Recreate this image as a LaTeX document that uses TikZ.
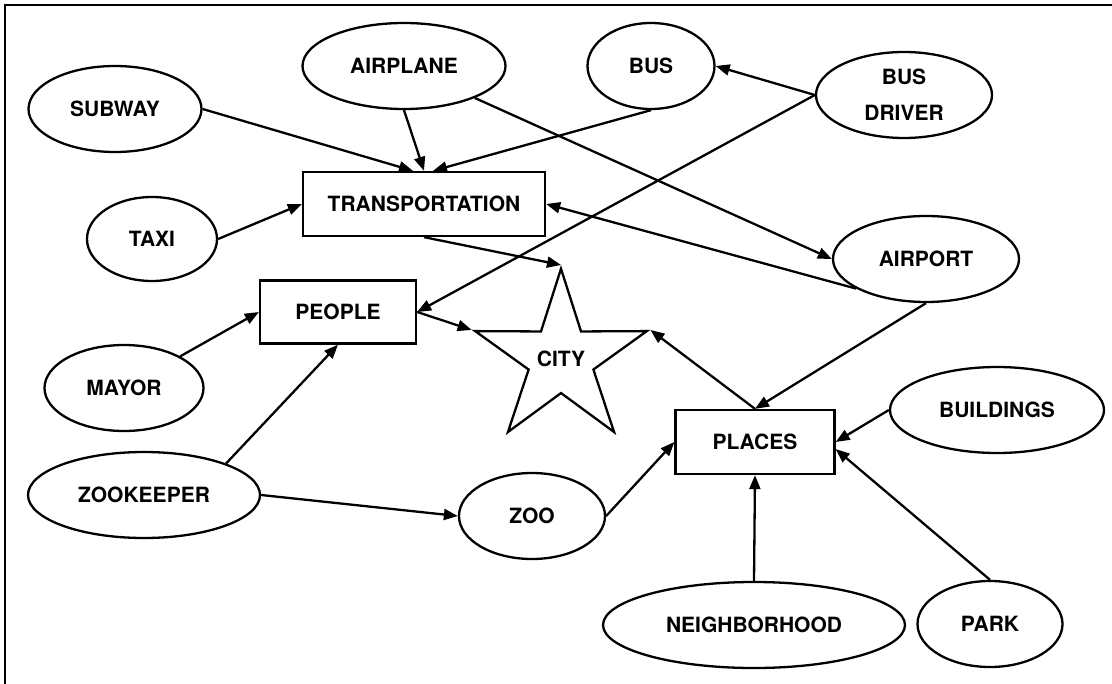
\documentclass[tikz,border=0pt]{standalone}
\usepackage{fontspec}
\setmainfont{TeX Gyre Heros}
\usetikzlibrary{shapes,arrows.meta,positioning}

\begin{document}
\begin{tikzpicture}[x=0.5pt, y=-0.5pt, line width=1.15pt,
  >={Triangle[length=7pt,width=5.5pt]},
  every node/.append style={font=\bfseries\fontsize{10.5}{18}\selectfont, inner sep=0pt},
  idea/.style={ellipse, draw, minimum height=43pt, align=center},
  group/.style={rectangle, draw, minimum height=32pt}]
    \useasboundingbox (0,0) rectangle (1112,684);
    \draw[line width=1.4pt] (5,684) -- (5,5) -- (1112,5);

    % top row
    \node (subway) [idea, minimum width=86.5pt] at (115,109) {SUBWAY};
    \node (airplane) [idea, minimum width=101.5pt] at (404,66) {AIRPLANE};
    \node (bus) [idea, minimum width=63.5pt] at (651,66) {BUS};
    \node (busdriver) [idea, minimum width=88pt] at (904,95) {BUS\\DRIVER};
    \node (transport) [group, minimum width=121pt] at (424,204) {TRANSPORTATION};
    \node (taxi) [idea, minimum width=65pt, minimum height=42pt] at (152,239) {TAXI};
    \node (airport) [idea, minimum width=93pt] at (926,259) {AIRPORT};

    % middle
    \node (people) [group, minimum width=78pt, minimum height=31.5pt] at (338,312) {PEOPLE};
    \node (mayor) [idea, minimum width=79.5pt] at (124,388) {MAYOR};
    \node (city) [star, star points=5, star point ratio=2.65, draw, minimum size=90pt] at (561,359) {\raisebox{-2pt}{CITY}};
    \node (places) [group, minimum width=79.5pt] at (755,442) {PLACES};
    \node (buildings) [idea, minimum width=107pt] at (997,410) {BUILDINGS};

    % bottom
    \node (zookeeper) [idea, minimum width=116pt] at (144,495) {ZOOKEEPER};
    \node (zoo) [idea, minimum width=73pt] at (532,516) {ZOO};
    \node (neighborhood) [idea, minimum width=151pt] at (754,625) {NEIGHBORHOOD};
    \node (park) [idea, minimum width=72.5pt] at (990,624) {PARK};

    \draw[->] (subway.east) -- ([xshift=-5.5pt]transport.north);
    \draw[->] (airplane.south) -- (transport.north);
    \draw[->] (bus.south) -- ([xshift=4.5pt]transport.north);
    \draw[->] (taxi.east) -- (transport.west);
    \draw[->] (busdriver.west) -- (bus.east);
    \draw[->] (busdriver.west) -- (people.east);
    \draw[->] (airplane) -- (airport.west);
    \draw[->] (airport.203) -- (transport.east);
    \draw[->] (transport.south) -- (city.90);
    \draw[->] (people.east) -- (city.162);
    \draw[->] (places.north) -- (city.18);
    \draw[->] (airport.south) -- (places.north);
    \draw[->] (mayor) -- (people.west);
    \draw[->] (zookeeper.21) -- (people.south);
    \draw[->] (zookeeper.east) -- (zoo.west);
    \draw[->] (zoo.east) -- (places.west);
    \draw[->] (buildings.west) -- (places.east);
    \draw[->] (neighborhood.north) -- (places.south);
    \draw[->] (park.north) -- (places.-5);
\end{tikzpicture}
\end{document}
